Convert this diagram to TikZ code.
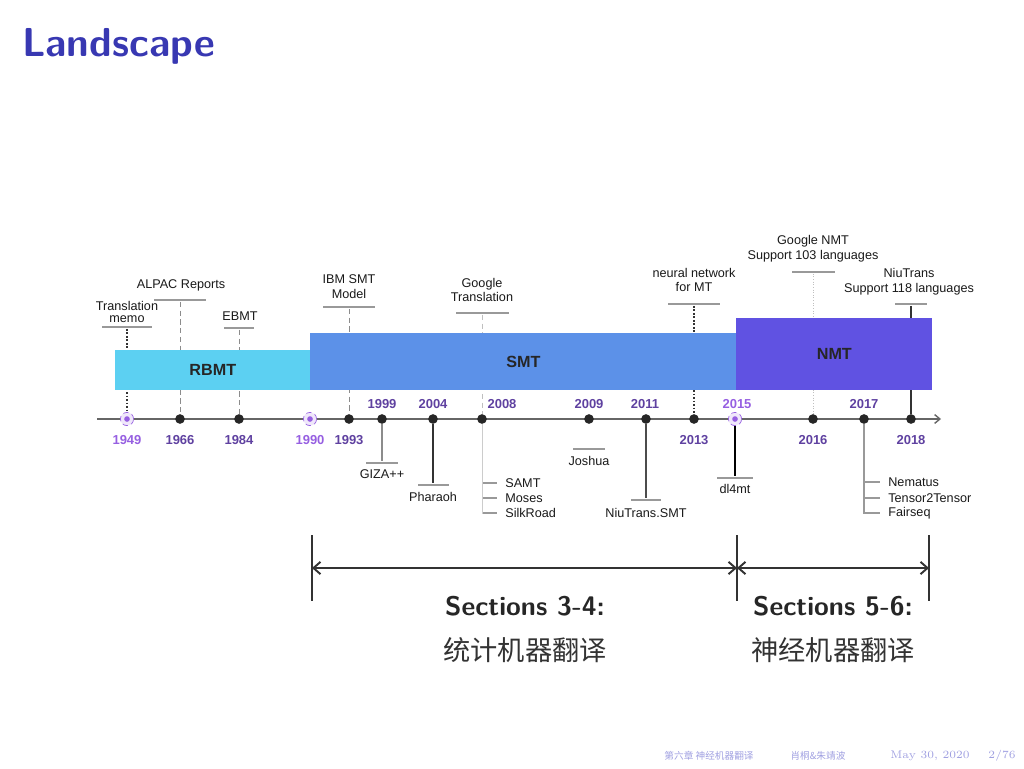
\documentclass[tikz,border=0pt]{standalone}
\usepackage{fontspec}
\setmainfont{Liberation Sans}
\newfontfamily\cjk{Noto Sans CJK SC}
\newfontfamily\lmr{Latin Modern Roman}
\usetikzlibrary{arrows.meta}
\definecolor{titleblue}{RGB}{56,56,178}
\definecolor{yr}{RGB}{95,65,160}
\definecolor{yrl}{RGB}{150,95,225}
\definecolor{rbmtc}{RGB}{92,208,242}
\definecolor{smtc}{RGB}{92,145,232}
\definecolor{nmtc}{RGB}{96,82,226}
\definecolor{footc}{RGB}{160,160,225}
\begin{document}
\begin{tikzpicture}[x=0.02cm,y=-0.02cm,
  evdot/.style={circle,fill=black!85,inner sep=0pt,minimum size=5.5pt},
  spec/.style={circle,draw=yrl,densely dashed,line width=0.4pt,inner sep=0pt,minimum size=7.5pt,fill=yrl!15},
  lab/.style={font=\fontsize{7.2}{8.5}\selectfont,align=center,text=black!90,inner sep=0pt},
  labw/.style={lab,anchor=west},
  year/.style={font=\bfseries\fontsize{7.4}{8}\selectfont,text=yr,inner sep=0pt},
  yearl/.style={year,text=yrl},
  hbar/.style={rectangle,fill=black!40,inner sep=0pt,minimum height=1.6pt},
  dsh/.style={draw=black!45,densely dashed,line width=0.5pt},
  dtt/.style={draw=black!80,densely dotted,line width=1pt},
  sol/.style={draw=black!80,line width=1pt},
  era/.style={anchor=north west,inner sep=0pt,font=\bfseries\fontsize{9.2}{10}\selectfont,text=black!85},
  sec/.style={font=\sffamily\bfseries\fontsize{15.3}{17}\selectfont,text=black!85},
  seccn/.style={font=\cjk\fontsize{15.5}{17}\selectfont,text=black!80},
  foot/.style={text=footc,inner sep=0pt}
]
\useasboundingbox (0,0) rectangle (1024,768);

% title
\node[anchor=west,text=titleblue,font=\sffamily\bfseries\fontsize{23}{26}\selectfont] (title) at (16,46) {Landscape};

% axis
\coordinate (ax0) at (97,419);
\coordinate (ax1) at (941,419);
\draw[black!60,line width=0.8pt,-{Straight Barb[length=3pt,width=5pt]}] (ax0) -- (ax1);

% points
\node[spec] (p1949) at (127,419) {};
\fill[yrl] (p1949) circle (1.6pt);
\node[evdot] (p1966) at (180,419) {};
\node[evdot] (p1984) at (239,419) {};
\node[spec] (p1990) at (310,419) {};
\fill[yrl] (p1990) circle (1.6pt);
\node[evdot] (p1993) at (349,419) {};
\node[evdot] (p1999) at (382,419) {};
\node[evdot] (p2004) at (433,419) {};
\node[evdot] (p2008) at (482,419) {};
\node[evdot] (p2009) at (589,419) {};
\node[evdot] (p2011) at (646,419) {};
\node[evdot] (p2013) at (694,419) {};
\node[spec] (p2015) at (735,419) {};
\fill[yrl] (p2015) circle (1.6pt);
\node[evdot] (p2016) at (813,419) {};
\node[evdot] (p2017) at (864,419) {};
\node[evdot] (p2018) at (911,419) {};

% years
\node[yearl] (y1949) at (127,440) {1949};
\node[year] (y1966) at (180,440) {1966};
\node[year] (y1984) at (239,440) {1984};
\node[yearl] (y1990) at (310,440) {1990};
\node[year] (y1993) at (349,440) {1993};
\node[year] (y1999) at (382,404) {1999};
\node[year] (y2004) at (433,404) {2004};
\node[year] (y2008) at (502,404) {2008};
\node[year] (y2009) at (589,404) {2009};
\node[year] (y2011) at (645,404) {2011};
\node[year] (y2013) at (694,440) {2013};
\node[yearl] (y2015) at (737,404) {2015};
\node[year] (y2016) at (813,440) {2016};
\node[year] (y2017) at (864,404) {2017};
\node[year] (y2018) at (911,440) {2018};

% upper annotations
\node[lab,font=\fontsize{7.2}{6.5}\selectfont] (tm) at (127,312) {Translation\\memo};
\node[hbar,minimum width=1.02cm] (tmb) at (127,327) {};
\draw[dtt] (tmb) -- (p1949);

\node[lab] (alpac) at (181,285) {ALPAC Reports};
\node[hbar,minimum width=1.06cm] (alpacb) at (180,300) {};
\draw[dsh] (alpacb) -- (p1966);

\node[lab] (ebmt) at (240,316) {EBMT};
\node[hbar,minimum width=0.6cm] (ebmtb) at (239,328) {};
\draw[dsh] (ebmtb) -- (p1984);

\node[lab] (ibm) at (349,287) {IBM SMT\\Model};
\node[hbar,minimum width=1.06cm] (ibmb) at (349,307) {};
\draw[dsh] (ibmb) -- (p1993);

\node[lab] (gt) at (482,290) {Google\\Translation};
\node[hbar,minimum width=1.06cm] (gtb) at (482,313) {};
\draw[dsh,draw=black!25] (gtb) -- (p2008);

\node[lab] (nn) at (694,280) {neural network\\for MT};
\node[hbar,minimum width=1.04cm] (nnb) at (694,304) {};
\draw[dtt] (nnb) -- (p2013);

\node[lab] (gnmt) at (813,249) {Google NMT\\Support 103 languages};
\node[hbar,minimum width=0.86cm] (gnmtb) at (813,272) {};
\draw[draw=black!25,densely dotted,line width=0.5pt] (gnmtb) -- (p2016);

\node[lab] (niu) at (909,282) {NiuTrans\\Support 118 languages};
\node[hbar,minimum width=0.64cm] (niub) at (911,304) {};
\draw[sol] (niub) -- (p2018);

% lower annotations
\node[hbar,minimum width=0.64cm] (gizab) at (382,463) {};
\node[lab] (giza) at (382,474) {GIZA++};
\draw[draw=black!45,line width=1pt] (p1999) -- (gizab);

\node[hbar,minimum width=0.62cm] (pharb) at (433,485) {};
\node[lab] (phar) at (433,497) {Pharaoh};
\draw[sol] (p2004) -- (pharb);

\coordinate (c2008) at (482,514);
\draw[draw=black!20,line width=0.5pt] (p2008) -- (c2008);
\node[hbar,minimum width=0.28cm,anchor=west] (samtb) at (483,483) {};
\node[hbar,minimum width=0.28cm,anchor=west] (mosesb) at (483,498) {};
\node[hbar,minimum width=0.28cm,anchor=west] (silkb) at (483,513) {};
\node[labw] (samt) at (505,483) {SAMT};
\node[labw] (moses) at (505,498) {Moses};
\node[labw] (silk) at (505,513) {SilkRoad};

\node[hbar,minimum width=0.64cm] (joshb) at (589,449) {};
\node[lab] (josh) at (589,461) {Joshua};

\node[hbar,minimum width=0.6cm] (nsmtb) at (646,500) {};
\node[lab] (nsmt) at (646,513) {NiuTrans.SMT};
\draw[draw=black!70,line width=1pt] (p2011) -- (nsmtb);

\node[hbar,minimum width=0.72cm] (dlb) at (735,478) {};
\node[lab] (dl) at (735,489) {dl4mt};
\draw[draw=black,line width=1pt] (p2015) -- (dlb);

\coordinate (c2017) at (864,514);
\draw[draw=black!40,line width=1pt] (p2017) -- (c2017);
\node[hbar,minimum width=0.32cm,anchor=west] (nemb) at (864,482) {};
\node[hbar,minimum width=0.32cm,anchor=west] (t2tb) at (864,498) {};
\node[hbar,minimum width=0.32cm,anchor=west] (fairb) at (864,513) {};
\node[labw] (nem) at (888,482) {Nematus};
\node[labw] (t2t) at (888,498) {Tensor2Tensor};
\node[labw] (fair) at (888,513) {Fairseq};

% era bars (on top of connectors)
\node[era,fill=rbmtc,minimum width=3.9cm,minimum height=0.8cm] (rbmt) at (115,350) {RBMT};
\node[era,fill=smtc,minimum width=8.52cm,minimum height=1.14cm] (smt) at (310,333) {SMT};
\node[era,fill=nmtc,minimum width=3.92cm,minimum height=1.44cm] (nmt) at (736,318) {NMT};

% bottom sections
\coordinate (v1t) at (312,535); \coordinate (v1b) at (312,601);
\coordinate (v2t) at (737,535); \coordinate (v2b) at (737,601);
\coordinate (v3t) at (929,535); \coordinate (v3b) at (929,601);
\draw[black!80,line width=1.1pt] (v1t) -- (v1b);
\draw[black!80,line width=1.1pt] (v2t) -- (v2b);
\draw[black!80,line width=1.1pt] (v3t) -- (v3b);
\coordinate (a1) at (312,568);
\coordinate (a2) at (737,568);
\coordinate (a3) at (929,568);
\draw[black!80,line width=1.1pt,{Straight Barb[length=4pt,width=7pt]}-{Straight Barb[length=4pt,width=7pt]}] (a1) -- (a2);
\draw[black!80,line width=1.1pt,{Straight Barb[length=4pt,width=7pt]}-{Straight Barb[length=4pt,width=7pt]}] (a2) -- (a3);

\node[sec] (s34) at (525,606) {Sections 3-4:};
\node[seccn] (s34cn) at (525,650) {统计机器翻译};
\node[sec] (s56) at (833,606) {Sections 5-6:};
\node[seccn] (s56cn) at (833,650) {神经机器翻译};

% footer
\node[foot,font=\cjk\fontsize{5.5}{6}\selectfont] (f1) at (709,756) {第六章 神经机器翻译};
\node[foot,font=\cjk\fontsize{5.5}{6}\selectfont] (f2) at (818,756) {肖桐\&朱靖波};
\node[foot,font=\lmr\fontsize{6.3}{7}\selectfont] (f3) at (930,756) {May 30, 2020};
\node[foot,font=\lmr\fontsize{6.3}{7}\selectfont] (f4) at (1002,756) {2/76};
\end{tikzpicture}
\end{document}
